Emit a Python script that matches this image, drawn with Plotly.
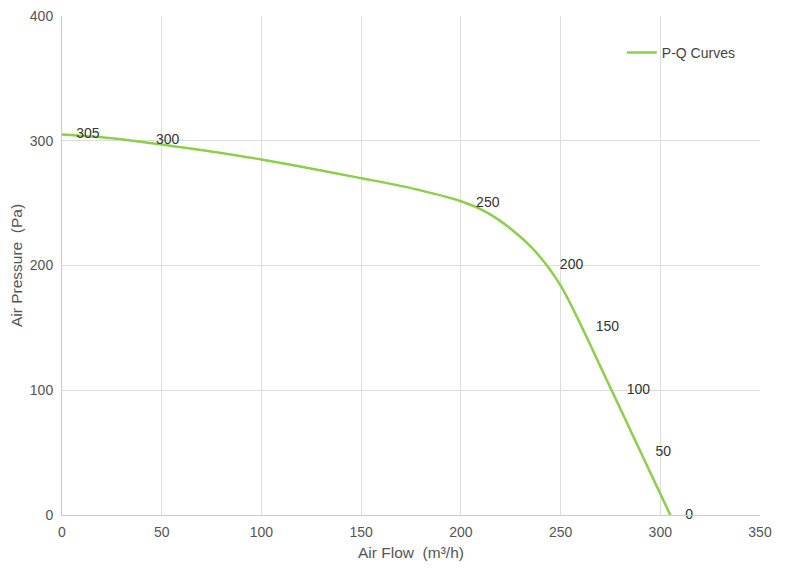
import plotly.graph_objects as go

# P-Q curve of the fan
air_flow = [0, 25, 50, 100, 150, 175, 200, 212.5, 225, 237.5, 250, 275, 305]
air_pressure = [305, 302, 297, 285, 270, 262, 251.5, 243, 229.5, 211, 184, 102, 0]

# point labels shown on the chart
label_x = [13, 53, 213.5, 255.5, 273.5, 289, 301.5, 314.5]
label_y = [305, 300, 250, 200, 150, 100, 50, 0]
label_text = ["305", "300", "250", "200", "150", "100", "50", "0"]

green = "#8ccf4a"
grid = "#dddddd"
font = "Liberation Sans, Arial, sans-serif"

fig = go.Figure()

fig.add_trace(go.Scatter(
    x=air_flow, y=air_pressure, mode="lines", name="P-Q Curves",
    line=dict(color=green, width=2.5, shape="spline", smoothing=0.8),
))

fig.add_trace(go.Scatter(
    x=label_x, y=label_y, mode="text", text=label_text,
    textfont=dict(family=font, size=14, color="#333333"),
    showlegend=False, hoverinfo="skip", cliponaxis=False,
))

# white box behind the legend (hides the grid there)
fig.add_shape(type="rect", xref="paper", yref="paper",
              x0=0.772, x1=0.997, y0=0.86, y1=0.99,
              fillcolor="white", line=dict(width=0), layer="between")

fig.update_xaxes(
    range=[0, 350], dtick=50, showgrid=True, gridcolor=grid, gridwidth=1,
    showline=True, linecolor="#cccccc", zeroline=False, automargin=False,
    ticks="", ticklabeloverflow="allow", ticklabelstandoff=4,
    tickfont=dict(family=font, size=14, color="#555555"),
    title=dict(text="Air Flow  (m³/h)", font=dict(family=font, size=15.5, color="#555555"), standoff=8),
)
fig.update_yaxes(
    range=[0, 400], dtick=100, showgrid=True, gridcolor=grid, gridwidth=1,
    showline=True, linecolor="#cccccc", zeroline=False, automargin=False,
    ticks="", ticklabeloverflow="allow", ticklabelstandoff=5,
    tickfont=dict(family=font, size=14, color="#555555"),
    title=dict(text="Air Pressure  (Pa)", font=dict(family=font, size=15.5, color="#555555"), standoff=10),
)

# page body adds ~7px offset, so margins are shifted to compensate
fig.update_layout(
    width=786, height=571,
    margin=dict(l=54, r=34, t=8, b=64),
    plot_bgcolor="white", paper_bgcolor="white",
    legend=dict(x=0.802, y=0.926, xanchor="left", yanchor="middle",
                bgcolor="rgba(0,0,0,0)",
                font=dict(family=font, size=14, color="#444444")),
)

fig.write_html("out.html")
